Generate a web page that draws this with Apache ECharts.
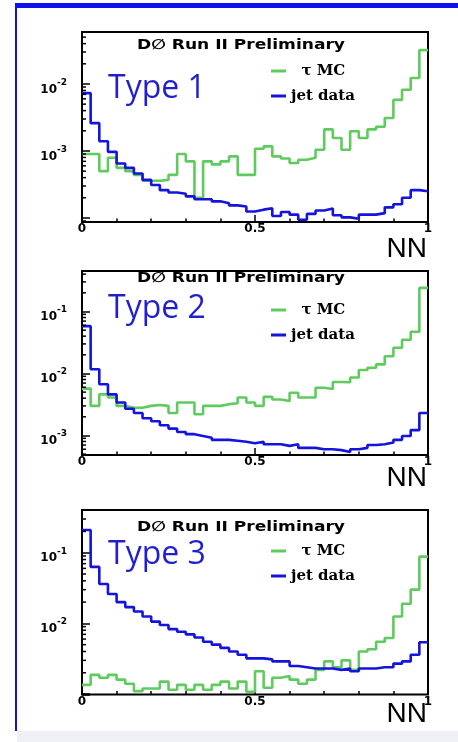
<!DOCTYPE html>
<html><head><meta charset="utf-8">
<script src="https://cdn.jsdelivr.net/npm/echarts@6/dist/echarts.min.js"></script>
<style>html,body{margin:0;padding:0;background:#fff;}#c{width:458px;height:742px;}</style>
</head><body><div id="c"></div>
<script>
// ---------- data (40 bins on NN in [0,1]) ----------
const binCount = 40;
const seriesNames = ['τ MC', 'jet data'];
const panelTitles = ['Type 1', 'Type 2', 'Type 3'];
const headerText = 'D\u2205 Run II Preliminary';
const xAxisTitle = 'NN';
const xTickLabels = ['0', '0.5', '1'];

const tauMC1 = [0.0009, 0.0009, 0.0005, 0.00079, 0.00056, 0.0005, 0.00044, 0.00036, 0.00036, 0.00037,
  0.00044, 0.0009, 0.0007, 0.0002, 0.0007, 0.00063, 0.0007, 0.00083, 0.00044, 0.00044,
  0.00108, 0.00117, 0.00083, 0.00077, 0.00066, 0.00074, 0.00079, 0.00104, 0.0021, 0.00156,
  0.00104, 0.00197, 0.00156, 0.0021, 0.0023, 0.0031, 0.0058, 0.0082, 0.0123, 0.032];
const jetData1 = [0.0073, 0.0026, 0.0014, 0.00097, 0.00065, 0.00056, 0.00046, 0.00037, 0.00031, 0.00026,
  0.00024, 0.00023, 0.00021, 0.00019, 0.00019, 0.000177, 0.000166, 0.000154, 0.000148, 0.000125,
  0.000133, 0.00014, 0.000107, 0.000123, 0.000112, 0.000094, 0.000115, 0.000129, 0.000138, 0.00011,
  0.000102, 0.000097, 0.000112, 0.000112, 0.000118, 0.000144, 0.00016, 0.0002, 0.00026, 0.00025];

const tauMC2 = [0.0057, 0.003, 0.0046, 0.0041, 0.003, 0.0028, 0.0028, 0.003, 0.0031, 0.003,
  0.0023, 0.0034, 0.0034, 0.0022, 0.003, 0.003, 0.0032, 0.0033, 0.0041, 0.0034,
  0.003, 0.0042, 0.0038, 0.0036, 0.0049, 0.0041, 0.0041, 0.0059, 0.0056, 0.0073,
  0.0072, 0.0086, 0.0114, 0.0124, 0.014, 0.019, 0.026, 0.035, 0.047, 0.24];
const jetData2 = [0.058, 0.0117, 0.0067, 0.0046, 0.0034, 0.0027, 0.0023, 0.0019, 0.0017, 0.00146,
  0.00129, 0.00114, 0.00105, 0.00098, 0.00092, 0.00085, 0.00085, 0.00082, 0.00079, 0.00075,
  0.00079, 0.00072, 0.00072, 0.00068, 0.00072, 0.00063, 0.00063, 0.0006, 0.0006, 0.00058,
  0.00054, 0.0006, 0.00063, 0.0007, 0.00072, 0.00077, 0.00085, 0.00098, 0.00122, 0.0023];

const tauMC3 = [0.00135, 0.00187, 0.0017, 0.00187, 0.0016, 0.0014, 0.0011, 0.0012, 0.0012, 0.0015,
  0.00115, 0.00135, 0.00115, 0.00135, 0.00115, 0.00135, 0.0015, 0.0012, 0.0015, 0.00108,
  0.0021, 0.00123, 0.0017, 0.0018, 0.0016, 0.0014, 0.0016, 0.0022, 0.0029, 0.0024,
  0.003, 0.0022, 0.004, 0.0043, 0.0055, 0.0062, 0.0125, 0.019, 0.03, 0.088];
const jetData3 = [0.21, 0.063, 0.036, 0.026, 0.020, 0.017, 0.0147, 0.0125, 0.0106, 0.0095,
  0.0083, 0.0076, 0.007, 0.0063, 0.0055, 0.005, 0.0045, 0.004, 0.0036, 0.0032,
  0.0032, 0.0031, 0.0029, 0.0029, 0.0025, 0.0024, 0.0023, 0.0023, 0.0023, 0.0022,
  0.0023, 0.0021, 0.0023, 0.0023, 0.0024, 0.0024, 0.0027, 0.0029, 0.0036, 0.0054];

const yLabelExp1 = [-3, -2];
const yLabelExp2 = [-3, -2, -1];
const yLabelExp3 = [-2, -1];

// ---------- layout / style ----------
const panels = [
  {tau: tauMC1, jet: jetData1, exps: yLabelExp1, top: 32, height: 190, yMin: 8.7e-5, yMax: 0.0597,
   headY: 45, typeY: 89, nnY: 249, legTop: 61},
  {tau: tauMC2, jet: jetData2, exps: yLabelExp2, top: 271, height: 184, yMin: 4.84e-4, yMax: 0.45,
   headY: 278, typeY: 309, nnY: 478, legTop: 300},
  {tau: tauMC3, jet: jetData3, exps: yLabelExp3, top: 510, height: 184.5, yMin: 9.86e-4, yMax: 0.402,
   headY: 527.5, typeY: 555, nnY: 714, legTop: 541}
];
const GREEN = '#5fcb5f', BLUE = '#1414dc', TEXTBLUE = '#1f1fcf';
const gridLeft = 82, gridWidth = 346;

const binEdges = [];
for (let i = 0; i <= binCount; i++) binEdges.push(+(i / binCount).toFixed(4));
function histPoints(vals) {
  return binEdges.map((x, i) => [x, vals[Math.min(i, vals.length - 1)]]);
}
function minorTicks(lo, hi) {
  const out = [];
  for (let d = Math.floor(Math.log10(lo)); d <= Math.ceil(Math.log10(hi)); d++) {
    for (let m = 2; m <= 9; m++) {
      const v = m * Math.pow(10, d);
      if (v > lo && v < hi) out.push([0, v]);
    }
  }
  return out;
}

const grids = [], xAxes = [], yAxes = [], series = [], legends = [], graphics = [];
panels.forEach((p, k) => {
  grids.push({left: gridLeft, top: p.top, width: gridWidth, height: p.height,
    show: true, borderColor: '#000', borderWidth: 2, backgroundColor: 'transparent'});
  xAxes.push({type: 'value', gridIndex: k, min: 0, max: 1, interval: 0.5,
    axisLine: {show: false},
    axisTick: {show: true, inside: true, length: 7, lineStyle: {color: '#000', width: 1.5}},
    minorTick: {show: true, splitNumber: 5, length: 3.5, lineStyle: {color: '#000', width: 1.5}},
    splitLine: {show: false},
    axisLabel: {margin: 1, color: '#000', fontFamily: 'DejaVu Sans', fontWeight: 'bold', fontSize: 12,
      formatter: v => xTickLabels[Math.round(v * 2)]}
  });
  yAxes.push({type: 'log', logBase: 10, gridIndex: k, min: p.yMin, max: p.yMax,
    axisLine: {show: false},
    axisTick: {show: true, inside: true, length: 8, lineStyle: {color: '#000', width: 1.5}},
    splitLine: {show: false},
    axisLabel: {margin: 15, showMinLabel: true, showMaxLabel: true,
      formatter: v => {
        const e = Math.log10(v), r = Math.round(e);
        if (Math.abs(e - r) > 1e-6 || p.exps.indexOf(r) < 0) return '';
        return '{b|10}{s|' + r + '}';
      },
      rich: {
        b: {fontFamily: 'DejaVu Sans', fontWeight: 'bold', fontSize: 12, padding: [11, 0, 0, 0], color: '#000'},
        s: {fontFamily: 'DejaVu Sans', fontWeight: 'bold', fontSize: 9, padding: [0, 0, 3, 0], color: '#000'}
      }
    }
  });
  series.push({name: seriesNames[0], type: 'line', xAxisIndex: k, yAxisIndex: k, step: 'end',
    showSymbol: false, symbol: 'none', data: histPoints(p.tau), color: GREEN,
    lineStyle: {color: GREEN, width: 2.6}, itemStyle: {color: GREEN}, z: 3, silent: true});
  series.push({name: seriesNames[1], type: 'line', xAxisIndex: k, yAxisIndex: k, step: 'end',
    showSymbol: false, symbol: 'none', data: histPoints(p.jet), color: BLUE,
    lineStyle: {color: BLUE, width: 2.6}, itemStyle: {color: BLUE}, z: 4, silent: true});
  series.push({type: 'custom', xAxisIndex: k, yAxisIndex: k, silent: true, z: 5,
    data: minorTicks(p.yMin, p.yMax),
    renderItem: (params, api) => {
      const c = api.coord([api.value(0), api.value(1)]);
      return {type: 'line', shape: {x1: c[0], y1: c[1], x2: c[0] + 4, y2: c[1]},
        style: {stroke: '#000', lineWidth: 1.5}};
    }
  });
  legends.push({left: 271, top: p.legTop, orient: 'vertical', padding: 0, itemGap: 5,
    itemWidth: 15, itemHeight: 3, icon: 'rect', selectedMode: false,
    data: seriesNames.slice(),
    formatter: n => (n === seriesNames[0] ? '  ' + n : n),
    textStyle: {fontFamily: 'DejaVu Serif', fontWeight: 'bold', fontSize: 15, lineHeight: 20, color: '#000'}
  });
  graphics.push({type: 'text', x: 241, y: p.headY, scaleX: 1.22, silent: true, z: 10,
    style: {text: headerText, font: 'bold 14px "DejaVu Sans"', fill: '#000',
      textAlign: 'center', align: 'center', textVerticalAlign: 'middle', verticalAlign: 'middle'}});
  graphics.push({type: 'text', x: 108, y: p.typeY, silent: true, z: 10,
    style: {text: panelTitles[k], font: '32px "Open Sans"', fill: TEXTBLUE,
      textAlign: 'left', align: 'left', textVerticalAlign: 'middle', verticalAlign: 'middle'}});
  graphics.push({type: 'text', x: 427, y: p.nnY, silent: true, z: 10,
    style: {text: xAxisTitle, font: '28px "Liberation Sans"', fill: '#000',
      textAlign: 'right', align: 'right', textVerticalAlign: 'middle', verticalAlign: 'middle'}});
});
// page frame
graphics.push({type: 'rect', shape: {x: 15, y: 3, width: 443, height: 5}, style: {fill: '#1010ee'}, silent: true});
graphics.push({type: 'rect', shape: {x: 15, y: 3, width: 2, height: 728}, style: {fill: '#1010ee'}, silent: true});
graphics.push({type: 'rect', shape: {x: 17, y: 731, width: 441, height: 11}, style: {fill: '#eef0f6'}, silent: true});

const chart = echarts.init(document.getElementById('c'), null, {renderer: 'canvas'});
chart.setOption({
  animation: false,
  backgroundColor: '#fff',
  grid: grids, xAxis: xAxes, yAxis: yAxes, series: series, legend: legends, graphic: graphics
});
</script></body></html>
